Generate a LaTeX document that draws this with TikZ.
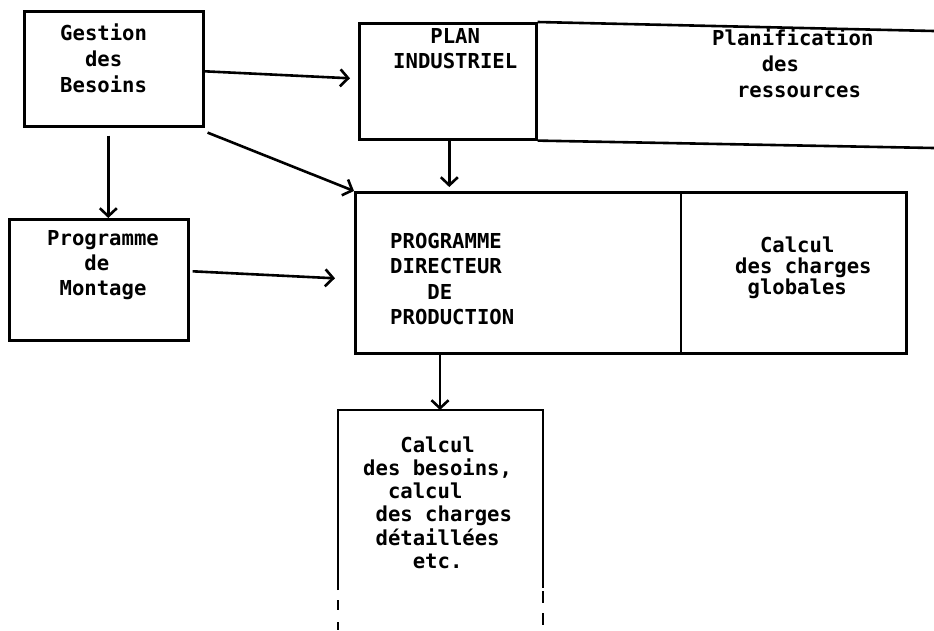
\documentclass[tikz,border=0pt]{standalone}
\usepackage{fontspec}
\newfontfamily\tw{DejaVu Sans Mono Bold}[WordSpace={1,0,0}]
\usetikzlibrary{arrows.meta}
\newcommand\twf[1]{\tw\fontsize{20.6pt}{#1pt}\selectfont}
\newcommand\ws{\phantom{x}}
\begin{document}
\begin{tikzpicture}[x=1pt,y=-1pt,
  line/.style={draw=black, line width=2.6pt},
  box/.style={line, inner sep=0pt, anchor=north west},
  txt/.style={inner sep=0pt, anchor=base west, align=left, text width=200pt},
  arr/.style={draw=black, line width=2.6pt, -{Straight Barb[length=8pt,width=17pt]}}]
\fill[white] (0,0) rectangle (934,630);
\useasboundingbox (0,0) rectangle (934,630);

% boxes
\node[box, minimum width=179pt, minimum height=115pt] (gestion) at (23,10) {};
\node[box, minimum width=177pt, minimum height=116pt] (plan) at (358,22) {};
\draw[line] (plan.north east) -- (934,31);
\draw[line] (plan.south east) -- (934,148);
\node[box, minimum width=551pt, minimum height=161pt] (pdp) at (354,191) {};
\draw[line] ([xshift=327pt]pdp.north west) -- ([xshift=327pt]pdp.south west);
\node[box, minimum width=179pt, minimum height=121pt] (montage) at (8,218) {};
\coordinate (cbtop) at (440,410);
\draw[line] (338,590) -- (338,410) -- (543,410) -- (543,588);
\draw[line, dash pattern=on 10pt off 12pt] (338,600) -- (338,630);
\draw[line, dash pattern=on 12pt off 10pt] (543,591) -- (543,630);

% texts
\node[txt, font=\twf{26}] (gestionT) at (60,40) {Gestion\\\ws\ws des\\Besoins};
\node[txt, font=\twf{25}] (planT) at (393,43) {\ws\ws\ws PLAN\\INDUSTRIEL};
\node[txt, font=\twf{26}] (planifT) at (712,45) {Planification\\\ws\ws\ws\ws des\\\ws\ws ressources};
\node[txt, font=\twf{25.5}] (pdpT) at (390,248) {PROGRAMME\\DIRECTEUR\\\ws\ws\ws DE\\PRODUCTION};
\node[txt, font=\twf{21}] (globT) at (735,252) {\ws\ws Calcul\\des\ws charges\\\ws globales};
\node[txt, font=\twf{25}] (montT) at (47,245) {Programme\\\ws\ws\ws de\\\ws Montage};
\node[txt, font=\twf{23.3}] (besT) at (363,452) {\ws\ws\ws Calcul\\des\ws besoins,\\\ws\ws calcul\\\ws des\ws charges\\\ws détaillées\\\ws\ws\ws\ws etc.};

% connectors
\draw[arr] ([yshift=-2.5pt]gestion.east) -- ([xshift=-8pt,yshift=3pt]plan.west);
\draw[arr] ([xshift=3pt,yshift=-5pt]gestion.south east) -- (pdp.north west);
\draw[arr] ([xshift=-5.5pt,yshift=-8pt]gestion.south) -- ([xshift=9.5pt]montage.north);
\draw[arr, shorten >=4pt] ([xshift=1.5pt]plan.south) coordinate (a4) -- (a4 |- pdp.north);
\draw[arr] ([xshift=3pt,yshift=8.5pt]montage.east) -- ([xshift=-19pt,yshift=-5.5pt]pdp.west);
\draw[arr] (cbtop |- pdp.south) -- (cbtop);
\end{tikzpicture}
\end{document}
